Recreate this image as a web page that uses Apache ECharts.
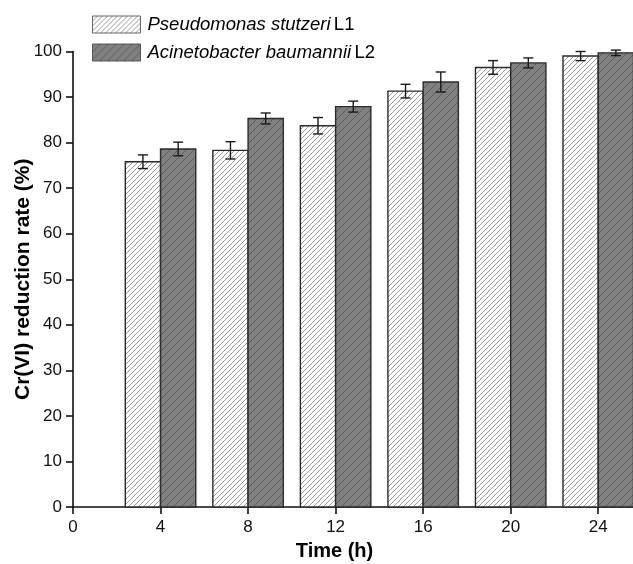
<!DOCTYPE html>
<html><head><meta charset="utf-8">
<script src="https://cdn.jsdelivr.net/npm/echarts@6/dist/echarts.min.js"></script>
<style>html,body{margin:0;padding:0;background:#fff}#c{width:633px;height:564px}</style>
</head><body><div id="c"></div>
<script>
const times = [4, 8, 12, 16, 20, 24];
const l1Values = [75.8, 78.3, 83.7, 91.3, 96.5, 99.0];
const l1Errors = [1.5, 1.9, 1.8, 1.5, 1.5, 1.0];
const l2Values = [78.6, 85.3, 87.9, 93.3, 97.5, 99.7];
const l2Errors = [1.5, 1.2, 1.2, 2.2, 1.1, 0.6];
const xTicks = [0, 4, 8, 12, 16, 20, 24];
const seriesNames = ['Pseudomonas stutzeri L1', 'Acinetobacter baumannii L2'];

function hatch(bg, line, s, lw){
  const c = document.createElement('canvas'); c.width = s; c.height = s;
  const g = c.getContext('2d');
  g.fillStyle = bg; g.fillRect(0,0,s,s);
  g.strokeStyle = line; g.lineWidth = lw;
  g.beginPath();
  g.moveTo(0,s); g.lineTo(s,0);
  g.moveTo(-1,1); g.lineTo(1,-1);
  g.moveTo(s-1,s+1); g.lineTo(s+1,s-1);
  g.stroke();
  return {image: c, repeat: 'repeat'};
}
const pat1 = hatch('#ffffff', '#9a9a9a', 5, 1);
const pat2 = hatch('#808080', '#5e5e5e', 8, 1);

const BW = 1.61;
function makeSeries(idx, vals, errs, pat){
  const data = times.map((t,i)=>[t, vals[i], errs[i]]);
  return {
    type: 'custom', name: seriesNames[idx], data: data,
    encode: {x: 0, y: 1},
    z: 2,
    renderItem: function(params, api){
      const x = api.value(0), y = api.value(1), e = api.value(2);
      const x0 = idx === 0 ? x - BW : x, x1 = idx === 0 ? x : x + BW;
      const p0 = api.coord([x0, 0]), p1 = api.coord([x1, y]);
      const cx = (p0[0] + p1[0]) / 2;
      const top = api.coord([x, y + e])[1], bot = api.coord([x, y - e])[1];
      const cap = 5;
      const ls = {stroke: '#1a1a1a', lineWidth: 1.4};
      return {type: 'group', children: [
        {type: 'rect', shape: {x: p0[0], y: p1[1], width: p1[0]-p0[0], height: p0[1]-p1[1]},
         style: {fill: pat, stroke: '#2b2b2b', lineWidth: 1.4}},
        {type: 'line', shape: {x1: cx, y1: top, x2: cx, y2: bot}, style: ls},
        {type: 'line', shape: {x1: cx-cap, y1: top, x2: cx+cap, y2: top}, style: ls},
        {type: 'line', shape: {x1: cx-cap, y1: bot, x2: cx+cap, y2: bot}, style: ls}
      ]};
    }
  };
}

const chart = echarts.init(document.getElementById('c'), null, {renderer: 'canvas'});
const font = 'Liberation Sans, Arial, sans-serif';
chart.setOption({
  animation: false,
  textStyle: {fontFamily: font},
  grid: {left: 73, right: -9, top: 51.5, bottom: 57, containLabel: false, outerBoundsMode: 'none'},
  legend: {
    left: 92, top: 15, orient: 'vertical', itemGap: 9, padding: 0,
    itemWidth: 48, itemHeight: 17,
    data: [
      {name: seriesNames[0], icon: 'rect', itemStyle: {color: pat1, borderColor: '#666', borderWidth: 1}},
      {name: seriesNames[1], icon: 'rect', itemStyle: {color: pat2, borderColor: '#555', borderWidth: 1}}
    ],
    formatter: function(n){ const p = n.split(' '); return '{i|' + p[0] + ' ' + p[1] + '} {n|' + p[2] + '}'; },
    textStyle: {padding: [0,0,0,2], rich: {
      i: {fontStyle: 'italic', fontSize: 18.5, color: '#000', fontFamily: font},
      n: {fontSize: 18.5, color: '#000', fontFamily: font}
    }}
  },
  xAxis: {
    type: 'value', min: 0, max: 26, interval: 2,
    name: 'Time (h)', nameLocation: 'middle', nameGap: 34, nameMoveOverlap: false,
    nameTextStyle: {fontSize: 20, fontWeight: 'bold', color: '#000', fontFamily: font, padding: [0, 46, 0, 0]},
    axisLine: {lineStyle: {color: '#111', width: 1.6}},
    axisTick: {show: true, length: 7, customValues: xTicks, lineStyle: {color: '#111', width: 1.6}},
    axisLabel: {fontSize: 17, color: '#111', margin: 12, customValues: xTicks},
    splitLine: {show: false}
  },
  yAxis: {
    type: 'value', min: 0, max: 100, interval: 10,
    name: 'Cr(VI) reduction rate (%)', nameLocation: 'middle', nameGap: 39, nameRotate: 90, nameMoveOverlap: false,
    nameTextStyle: {fontSize: 21, fontWeight: 'bold', color: '#000', fontFamily: font},
    axisLine: {show: true, lineStyle: {color: '#111', width: 1.6}},
    axisTick: {show: true, length: 7, lineStyle: {color: '#111', width: 1.6}},
    axisLabel: {fontSize: 17, color: '#111', margin: 11},
    splitLine: {show: false}
  },
  series: [makeSeries(0, l1Values, l1Errors, pat1), makeSeries(1, l2Values, l2Errors, pat2)]
});
</script></body></html>
